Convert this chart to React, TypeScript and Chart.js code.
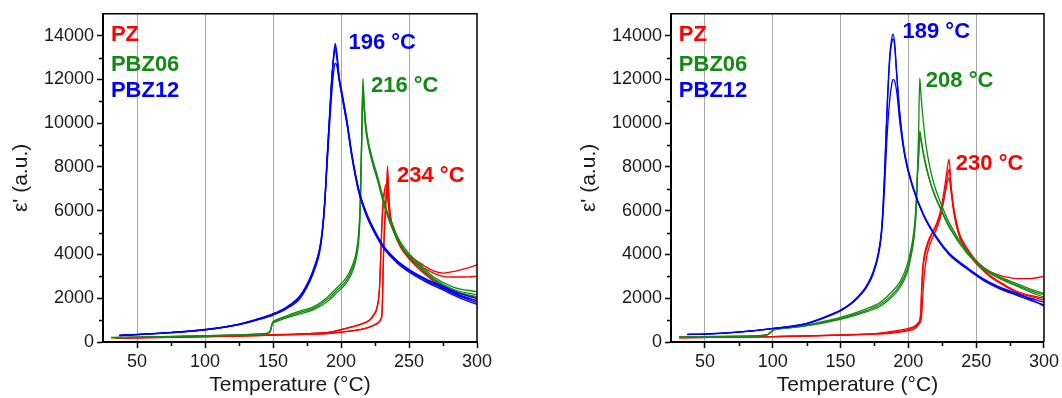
import React, { useEffect, useRef } from "react";
import { Chart, registerables } from "chart.js";

Chart.register(...registerables);

// ---------- shared axis / label data ----------
const xTickValues = [50, 100, 150, 200, 250, 300];
const xMinorValues = [75, 125, 175, 225, 275];
const yTickValues = [0, 2000, 4000, 6000, 8000, 10000, 12000, 14000];
const yMinorValues = [1000, 3000, 5000, 7000, 9000, 11000, 13000];
const gridValues = [50, 100, 150, 200, 250];

const materials = ["PZ", "PBZ06", "PBZ12"];
const materialColors = ["#ff0000", "#138a13", "#0000ff"];
const legendX = 30.8;
const legendY = [14040, 12680, 11460];

const leftPeakLabels = ["196 °C", "216 °C", "234 °C"];
const leftPeakX = [205.5, 222, 241.2];
const leftPeakY = [13660, 11690, 7600];
const leftPeakColors = ["#0000ff", "#138a13", "#ff0000"];

const rightPeakLabels = ["189 °C", "208 °C", "230 °C"];
const rightPeakX = [195.7, 212.9, 235];
const rightPeakY = [14190, 11920, 8130];
const rightPeakColors = ["#0000ff", "#138a13", "#ff0000"];

// ---------- LEFT PANEL ----------
const leftT_PBZ12 = [37, 50, 75, 100, 125, 140, 150, 160, 170, 177, 181, 184, 186, 188, 190, 191.5, 193, 194.5, 195.7, 197, 198.5, 200.5, 202.5, 204.5, 208, 213, 219, 226, 232, 241, 251, 262, 273, 286, 300];
const leftE_PBZ12_a = [300, 340, 430, 560, 800, 1050, 1250, 1550, 2060, 2820, 3450, 4100, 4900, 6300, 8600, 10200, 11800, 13000, 13650, 13200, 12200, 11500, 10800, 10100, 8600, 7000, 5860, 4950, 4340, 3740, 3280, 2900, 2600, 2250, 1980];
const leftE_PBZ12_b = [310, 345, 440, 575, 820, 1080, 1290, 1600, 2130, 2900, 3550, 4200, 5000, 6450, 8700, 10300, 11900, 13000, 13500, 13100, 12150, 11400, 10700, 10000, 8550, 6950, 5800, 4900, 4300, 3700, 3230, 2850, 2540, 2180, 1880];
const leftE_PBZ12_c = [290, 335, 425, 550, 790, 1030, 1230, 1520, 2000, 2750, 3380, 4000, 4800, 6250, 8500, 10100, 11700, 12900, 13350, 12950, 12050, 11350, 10650, 9950, 8500, 6900, 5780, 4880, 4280, 3680, 3200, 2820, 2500, 2120, 1800];
const leftE_PBZ12_d = [295, 338, 428, 555, 805, 1060, 1270, 1580, 2100, 2850, 3500, 4150, 4900, 6300, 8300, 9800, 11200, 12300, 12750, 12600, 12000, 11300, 10600, 9900, 8450, 6850, 5720, 4820, 4220, 3620, 3150, 2760, 2440, 2050, 1720];

const leftT_PBZ06 = [31, 50, 75, 100, 125, 140, 146, 148, 149.5, 152, 160, 170, 180, 190, 197, 204, 208, 211, 213, 214.2, 215.2, 216.1, 217, 218, 220, 223, 227, 231, 236, 243, 250, 258, 268, 283, 300];
const leftE_PBZ06_a = [200, 220, 250, 280, 320, 360, 400, 500, 850, 960, 1150, 1350, 1550, 1950, 2370, 2820, 3300, 3900, 4800, 6300, 9300, 12050, 11000, 10100, 9200, 8400, 7550, 6600, 5600, 4650, 4050, 3550, 2980, 2500, 2300];
const leftE_PBZ06_b = [210, 225, 255, 285, 325, 365, 410, 520, 880, 1000, 1200, 1420, 1620, 2050, 2480, 2950, 3450, 4050, 5000, 6500, 9300, 11700, 10800, 9950, 9100, 8300, 7450, 6500, 5500, 4550, 3950, 3450, 2900, 2400, 2150];
const leftE_PBZ06_c = [195, 215, 245, 275, 315, 355, 390, 480, 820, 920, 1100, 1280, 1480, 1850, 2260, 2700, 3150, 3750, 4600, 6100, 9000, 11300, 10600, 9800, 9000, 8200, 7350, 6400, 5450, 4500, 3900, 3400, 2850, 2350, 2050];

const leftT_PZ = [34, 50, 75, 100, 125, 150, 175, 192, 200, 210, 217, 221, 224, 226.5, 228.3, 229.3, 230.2, 231.3, 232.5, 233.4, 234.2, 235.2, 236.2, 238.7, 243.6, 250, 256, 262, 268, 275, 281, 288, 294, 300];
const leftE_PZ_a = [180, 195, 215, 240, 270, 310, 350, 395, 440, 520, 600, 680, 760, 840, 930, 1030, 1300, 4000, 5860, 6800, 8050, 6700, 5860, 5250, 4490, 3950, 3700, 3450, 3250, 3150, 3200, 3300, 3400, 3520];
const leftE_PZ_b = [185, 200, 225, 255, 290, 330, 380, 450, 560, 720, 860, 990, 1220, 1550, 2400, 4000, 5500, 6500, 7100, 7200, 6900, 6200, 5600, 5100, 4400, 3900, 3600, 3350, 3150, 3000, 2970, 2970, 2980, 3000];
const leftE_PZ_c = [182, 197, 218, 243, 273, 312, 355, 400, 450, 530, 610, 690, 770, 850, 940, 1060, 1400, 4100, 5900, 6900, 7600, 6500, 5750, 5150, 4400, 3850, 3500, 3150, 2850, 2550, 2350, 2200, 2120, 2060];
const leftE_PZ_d = [187, 203, 228, 258, 293, 333, 383, 455, 570, 730, 870, 1010, 1250, 1600, 2500, 4100, 5600, 6600, 7000, 7000, 6700, 6100, 5550, 5050, 4350, 3800, 3420, 3080, 2780, 2480, 2270, 2100, 1990, 1900];

// ---------- RIGHT PANEL ----------
const rightT_PBZ12 = [37, 50, 75, 100, 125, 144.5, 150, 160, 169, 174, 177.7, 180, 181.4, 182.5, 183.4, 184.5, 186.3, 187.8, 188.8, 190, 191.3, 193.8, 197.5, 203.6, 211, 220.9, 230.5, 242.8, 255, 267, 280, 290, 300];
const rightE_PBZ12_a = [350, 365, 460, 620, 850, 1300, 1460, 1900, 2550, 3200, 4030, 5000, 6300, 7800, 9340, 11000, 13100, 13900, 14070, 13600, 12400, 10400, 8580, 7070, 5860, 4790, 4030, 3430, 2900, 2520, 2220, 2000, 1830];
const rightE_PBZ12_b = [340, 360, 450, 610, 830, 1260, 1420, 1850, 2480, 3100, 3900, 4850, 6100, 7600, 9100, 10800, 12900, 13700, 13850, 13450, 12300, 10300, 8500, 7000, 5800, 4720, 3960, 3360, 2830, 2440, 2130, 1900, 1700];
const rightE_PBZ12_c = [345, 362, 455, 615, 840, 1280, 1440, 1880, 2520, 3150, 3950, 4850, 5900, 7100, 8300, 9600, 11100, 11800, 12000, 11900, 11500, 10000, 8450, 7000, 5820, 4760, 4000, 3400, 2870, 2480, 2180, 1960, 1640];

const rightT_PBZ06 = [31, 50, 75, 95.5, 98, 101, 110, 125, 150, 165, 179, 186, 193.8, 199, 201.1, 203, 204.8, 206, 206.7, 207.6, 208.4, 209.4, 211, 213, 215.8, 219, 223.2, 230.5, 242.8, 255, 267, 280, 290, 300];
const rightE_PBZ06_a = [230, 240, 260, 320, 420, 560, 640, 760, 1080, 1350, 1700, 2050, 2600, 3300, 3800, 4400, 5300, 6500, 7830, 9700, 12070, 11200, 10100, 9000, 8000, 7200, 6460, 5400, 4190, 3430, 2990, 2670, 2420, 2220];
const rightE_PBZ06_b = [225, 238, 258, 315, 410, 550, 630, 740, 1040, 1300, 1620, 1950, 2480, 3150, 3650, 4250, 5100, 6300, 7500, 8600, 9650, 9300, 8700, 8100, 7400, 6800, 6200, 5250, 4100, 3350, 2900, 2550, 2280, 2050];
const rightE_PBZ06_c = [235, 245, 265, 325, 430, 570, 650, 780, 1120, 1420, 1800, 2180, 2750, 3500, 4000, 4600, 5500, 6700, 7700, 8500, 9400, 9150, 8600, 8000, 7350, 6750, 6150, 5200, 4100, 3380, 2930, 2600, 2350, 2150];

const rightT_PZ = [31, 50, 75, 100, 125, 150, 175, 186.3, 200, 205, 207.2, 208.4, 209.2, 209.8, 210.5, 211.5, 213.2, 215.8, 218.1, 221, 223.2, 225, 226.7, 228.4, 230, 231.6, 233.3, 235.3, 238, 242.8, 249, 255, 261, 267.4, 274, 280, 290, 300];
const rightE_PZ_a = [200, 210, 225, 250, 280, 320, 380, 470, 620, 740, 880, 1000, 1500, 2500, 3300, 3900, 4340, 4800, 5050, 5450, 5860, 6400, 7070, 7800, 8360, 7070, 6200, 5550, 4900, 4340, 3800, 3430, 3200, 3050, 2950, 2900, 2900, 3000];
const rightE_PZ_b = [195, 205, 220, 245, 272, 310, 360, 395, 515, 620, 760, 860, 950, 1200, 1900, 2900, 3800, 4450, 4800, 5200, 5600, 6100, 6700, 7400, 7900, 7000, 6100, 5400, 4800, 4250, 3700, 3330, 3000, 2750, 2500, 2320, 2130, 2000];
const rightE_PZ_c = [198, 208, 222, 248, 276, 315, 370, 430, 570, 690, 820, 950, 1250, 2200, 3100, 3700, 4200, 4700, 5000, 5350, 5700, 6200, 6700, 7200, 7500, 6800, 6000, 5350, 4750, 4200, 3650, 3280, 2950, 2700, 2450, 2270, 2080, 1920];

const FONT = "'Liberation Sans', Arial, Helvetica, sans-serif";

type Curve = { t: number[]; e: number[]; color: string };

function toDataset(c: Curve) {
  return {
    data: c.t.map((x, i) => ({ x, y: c.e[i] })),
    borderColor: c.color,
    backgroundColor: c.color,
    borderWidth: 1.3,
    pointRadius: 0,
    showLine: true,
    fill: false,
    cubicInterpolationMode: "monotone" as const,
  };
}

function decorPlugin(peakLabels: string[], peakX: number[], peakY: number[], peakColors: string[]) {
  return {
    id: "decor",
    afterDraw(chart: any) {
      const { ctx, chartArea } = chart;
      const xs = chart.scales.x;
      const ys = chart.scales.y;
      ctx.save();
      ctx.strokeStyle = "#000";
      ctx.lineWidth = 1.5;
      ctx.beginPath();
      ctx.moveTo(chartArea.left, chartArea.top);
      ctx.lineTo(chartArea.right, chartArea.top);
      ctx.lineTo(chartArea.right, chartArea.bottom);
      ctx.stroke();
      ctx.beginPath();
      xMinorValues.forEach((v) => {
        const px = Math.round(xs.getPixelForValue(v)) + 0.5;
        ctx.moveTo(px, chartArea.bottom);
        ctx.lineTo(px, chartArea.bottom + 4);
      });
      yMinorValues.forEach((v) => {
        const py = Math.round(ys.getPixelForValue(v)) + 0.5;
        ctx.moveTo(chartArea.left, py);
        ctx.lineTo(chartArea.left - 4, py);
      });
      ctx.stroke();
      ctx.font = `bold 22px ${FONT}`;
      ctx.textAlign = "left";
      ctx.textBaseline = "middle";
      materials.forEach((m, i) => {
        ctx.fillStyle = materialColors[i];
        ctx.fillText(m, xs.getPixelForValue(legendX), ys.getPixelForValue(legendY[i]));
      });
      peakLabels.forEach((s, i) => {
        ctx.fillStyle = peakColors[i];
        ctx.fillText(s, xs.getPixelForValue(peakX[i]), ys.getPixelForValue(peakY[i]));
      });
      ctx.restore();
    },
  };
}

function makeConfig(curves: Curve[], rightPad: number, plugin: any) {
  return {
    type: "scatter" as const,
    data: { datasets: curves.map(toDataset) },
    options: {
      animation: false as const,
      responsive: false,
      maintainAspectRatio: false,
      layout: { padding: { top: 13, right: rightPad, left: 0, bottom: 0 } },
      plugins: { legend: { display: false }, tooltip: { enabled: false } },
      scales: {
        x: {
          type: "linear" as const,
          min: 25,
          max: 300,
          afterBuildTicks: (s: any) => {
            s.ticks = xTickValues.map((v) => ({ value: v }));
          },
          afterFit: (s: any) => {
            s.height = 56;
          },
          ticks: {
            color: "#1a1a1a",
            font: { family: FONT, size: 18 },
            padding: 3,
            maxRotation: 0,
            autoSkip: false,
            callback: (v: any) => String(v),
          },
          grid: {
            color: (c: any) => (c.tick && gridValues.includes(c.tick.value) ? "#a8a8a8" : "rgba(0,0,0,0)"),
            lineWidth: 1,
            tickColor: "#000",
            tickLength: 6,
            tickWidth: 1.5,
          },
          border: { display: true, color: "#000", width: 2 },
          title: {
            display: true,
            text: "Temperature (°C)",
            color: "#1a1a1a",
            font: { family: FONT, size: 21 },
            padding: { top: 0, bottom: 0 },
          },
        },
        y: {
          type: "linear" as const,
          min: 0,
          max: 15000,
          afterBuildTicks: (s: any) => {
            s.ticks = yTickValues.map((v) => ({ value: v }));
          },
          afterFit: (s: any) => {
            s.width = 103;
          },
          ticks: {
            color: "#1a1a1a",
            font: { family: FONT, size: 18 },
            padding: 3,
            callback: (v: any) => String(v),
          },
          grid: {
            drawOnChartArea: false,
            tickColor: "#000",
            tickLength: 6,
            tickWidth: 1.5,
          },
          border: { display: true, color: "#000", width: 2 },
          title: {
            display: true,
            text: "ε' (a.u.)",
            color: "#1a1a1a",
            font: { family: FONT, size: 21 },
            padding: { top: 9, bottom: 0 },
          },
        },
      },
    },
    plugins: [plugin],
  };
}

const blue = materialColors[2];
const green = materialColors[1];
const red = materialColors[0];

const leftCurves: Curve[] = [
  { t: leftT_PBZ12, e: leftE_PBZ12_a, color: blue },
  { t: leftT_PBZ12, e: leftE_PBZ12_b, color: blue },
  { t: leftT_PBZ12, e: leftE_PBZ12_c, color: blue },
  { t: leftT_PBZ12, e: leftE_PBZ12_d, color: blue },
  { t: leftT_PBZ06, e: leftE_PBZ06_a, color: green },
  { t: leftT_PBZ06, e: leftE_PBZ06_b, color: green },
  { t: leftT_PBZ06, e: leftE_PBZ06_c, color: green },
  { t: leftT_PZ, e: leftE_PZ_a, color: red },
  { t: leftT_PZ, e: leftE_PZ_b, color: red },
  { t: leftT_PZ, e: leftE_PZ_c, color: red },
  { t: leftT_PZ, e: leftE_PZ_d, color: red },
];

const rightCurves: Curve[] = [
  { t: rightT_PBZ12, e: rightE_PBZ12_a, color: blue },
  { t: rightT_PBZ12, e: rightE_PBZ12_b, color: blue },
  { t: rightT_PBZ12, e: rightE_PBZ12_c, color: blue },
  { t: rightT_PBZ06, e: rightE_PBZ06_a, color: green },
  { t: rightT_PBZ06, e: rightE_PBZ06_b, color: green },
  { t: rightT_PBZ06, e: rightE_PBZ06_c, color: green },
  { t: rightT_PZ, e: rightE_PZ_a, color: red },
  { t: rightT_PZ, e: rightE_PZ_b, color: red },
  { t: rightT_PZ, e: rightE_PZ_c, color: red },
];

function Panel(props: { curves: Curve[]; width: number; left: number; rightPad: number; labels: string[]; lx: number[]; ly: number[]; lc: string[] }) {
  const ref = useRef<HTMLCanvasElement | null>(null);
  useEffect(() => {
    if (!ref.current) return;
    const chart = new Chart(
      ref.current,
      makeConfig(props.curves, props.rightPad, decorPlugin(props.labels, props.lx, props.ly, props.lc)) as any
    );
    return () => chart.destroy();
  }, []);
  return (
    <canvas
      ref={ref}
      width={props.width}
      height={398}
      style={{ position: "absolute", left: props.left, top: 0, width: props.width, height: 398 }}
    />
  );
}

export default function App() {
  return (
    <div style={{ position: "fixed", left: 0, top: 0, width: 1062, height: 398, background: "#fff", overflow: "hidden" }}>
      <Panel curves={leftCurves} width={531} left={0} rightPad={54} labels={leftPeakLabels} lx={leftPeakX} ly={leftPeakY} lc={leftPeakColors} />
      <Panel curves={rightCurves} width={494} left={568} rightPad={18} labels={rightPeakLabels} lx={rightPeakX} ly={rightPeakY} lc={rightPeakColors} />
    </div>
  );
}
